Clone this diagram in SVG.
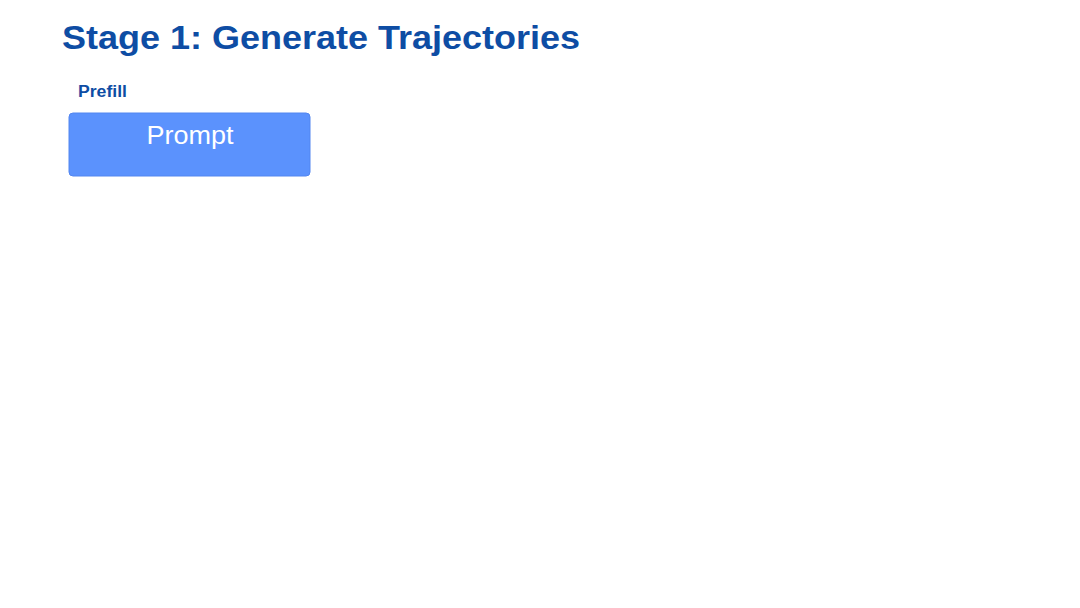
<svg xmlns="http://www.w3.org/2000/svg" width="1080" height="608" viewBox="0 0 1080 608">
<style>
.t{font-family:"Liberation Sans",Arial,sans-serif;font-weight:bold;fill:#0E4DA4}
.p{font-family:"Liberation Sans",Arial,sans-serif;fill:#ffffff}
</style>
<rect width="1080" height="608" fill="#ffffff"/>
<text class="t" x="62" y="49" font-size="34" textLength="518" lengthAdjust="spacingAndGlyphs">Stage 1: Generate Trajectories</text>
<text class="t" x="78" y="97" font-size="16" textLength="49" lengthAdjust="spacingAndGlyphs">Prefill</text>
<g id="prompt">
<rect x="69" y="113" width="241" height="63" rx="4" fill="#5B92FD" stroke="#5286F0" stroke-width="1"/>
<text class="p" x="190" y="144" font-size="26" text-anchor="middle" textLength="87" lengthAdjust="spacingAndGlyphs">Prompt</text>
</g>
<g id="connectors"/>
</svg>
